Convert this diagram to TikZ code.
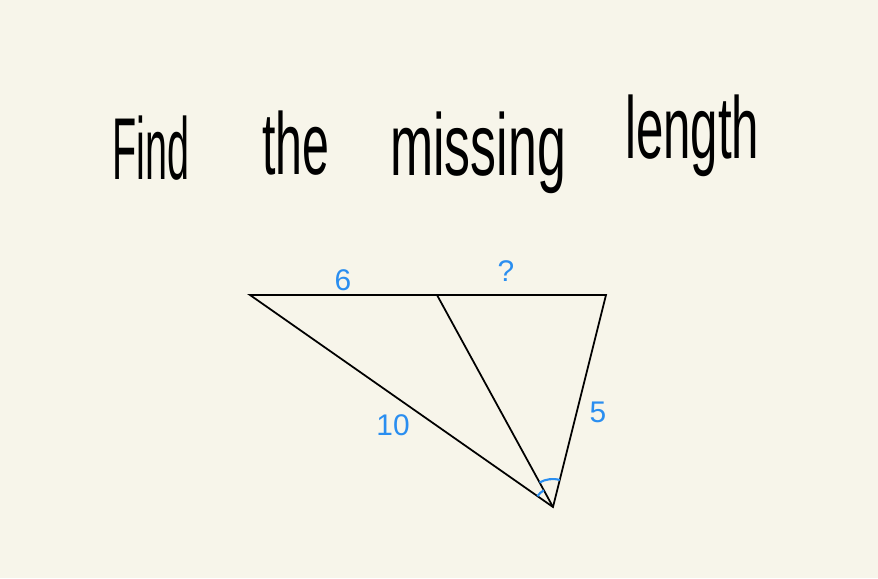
\documentclass[tikz,border=0pt]{standalone}
\usepackage{fontspec}
\setmainfont{Liberation Sans}
\usetikzlibrary{angles}
\definecolor{paper}{HTML}{F7F5EA}
\definecolor{pen}{HTML}{2A8EF0}
\begin{document}
\begin{tikzpicture}[
    x=0.02cm, y=-0.02cm,
    every node/.style={inner sep=0pt},
    side/.style = {draw=black, line width=1pt},
    word/.style = {font=\fontsize{50}{50}\selectfont, anchor=base west},
    lbl/.style = {text=pen, font=\fontsize{17}{17}\selectfont},
    arcmark/.style = {draw=pen, line width=1.2pt}
]
    \fill[paper] (0,0) rectangle (878,578);
    \useasboundingbox (0,0) rectangle (878,578);
    % title
    \node[word, xscale=0.45] (w1) at (112,179) {Find};
    \node[word, xscale=0.55] (w2) at (262,174) {the};
    \node[word, xscale=0.59] (w3) at (390,175) {missing};
    \node[word, xscale=0.56] (w4) at (625,158) {length};
    % triangle
    \coordinate (A) at (250,295);
    \coordinate (D) at (437,295);
    \coordinate (B) at (606,295);
    \coordinate (C) at (553,507);
    \draw[side] (A) -- (D) -- (B) -- (C) -- cycle;
    \draw[side] (D) -- (C);
    % equal angles
    \path pic[arcmark, angle radius=0.38cm] {angle = D--C--A};
    \path pic[arcmark, angle radius=0.56cm] {angle = B--C--D};
    % lengths
    \node[lbl] (l6) at (343,280) {6};
    \node[lbl] (lq) at (506,271) {?};
    \node[lbl] (l10) at (393,425) {10};
    \node[lbl] (l5) at (598,412) {5};
\end{tikzpicture}
\end{document}
